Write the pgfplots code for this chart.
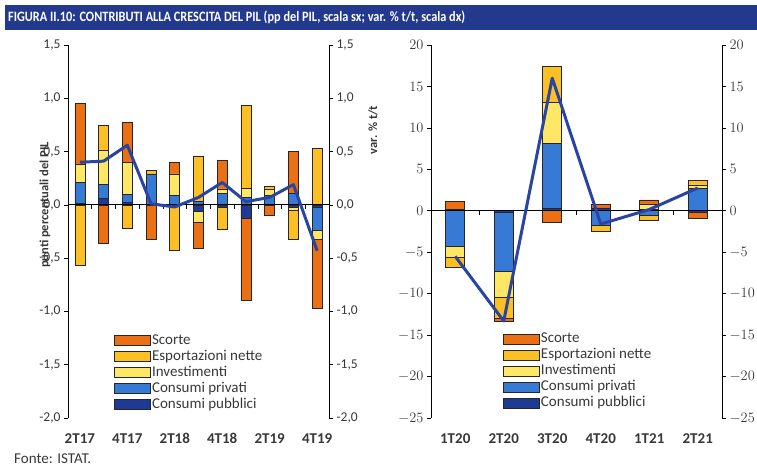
\documentclass[border=0pt]{standalone}
\usepackage{fontspec}
\setmainfont{Carlito}
\usepackage{pgfplots}
\usepackage{pgfplotstable}
\pgfplotsset{compat=1.18}

\definecolor{cSco}{HTML}{EA7013}
\definecolor{cExp}{HTML}{FCC024}
\definecolor{cInv}{HTML}{FFE766}
\definecolor{cPri}{HTML}{367AD6}
\definecolor{cPub}{HTML}{1E3A94}
\definecolor{cLine}{HTML}{2A44A2}
\definecolor{cTitle}{HTML}{22398D}
\definecolor{cTxt}{HTML}{383838}

% left panel: positive and negative parts of the contributions
\pgfplotstableread{
x pub priv inv exp sco
1 0.01 0.20 0.17 0 0.57
2 0.06 0.135 0.32 0.23 0
3 0.025 0.07 0.30 0 0.38
4 0 0.29 0 0.03 0
5 0 0.09 0.20 0 0.11
6 0 0.03 0 0.43 0
7 0 0.11 0.04 0 0.27
8 0 0.07 0.085 0.78 0
9 0 0.09 0.06 0.02 0
10 0 0.11 0 0 0.39
11 0 0 0 0.53 0
}\LPos
\pgfplotstableread{
x pub priv inv exp sco
1 0 0 0 -0.57 0
2 0 0 0 0 -0.36
3 0 0 0 -0.22 0
4 0 0 0 0 -0.32
5 0 0 0 -0.43 0
6 -0.06 0 -0.10 0 -0.25
7 -0.02 0 0 -0.21 0
8 -0.13 0 0 0 -0.77
9 0 0 0 0 -0.095
10 -0.02 0 -0.03 -0.27 0
11 -0.02 -0.22 -0.085 0 -0.65
}\LNeg
\pgfplotstableread{
x pub priv inv exp sco
0 0.2 0 0 0 0.9
1 0 0 0 0 0
2 0.3 7.8 5.0 4.3 0
3 0.35 0 0 0 0.45
4 0.2 0 0.6 0 0.5
5 0 2.73 0.4 0.5 0
}\RPos
\pgfplotstableread{
x pub priv inv exp sco
0 0 -4.26 -1.37 -1.15 0
1 -0.2 -7.15 -3.1 -2.5 -0.4
2 0 0 0 0 -1.45
3 0 -1.7 0 -0.8 0
4 0 -0.6 0 -0.5 0
5 -0.2 0 0 0 -0.7
}\RNeg

\pgfplotsset{
  Lpanel/.style={scale only axis, at={(68pt,50pt)}, anchor=south west,
    width=261pt, height=373pt, xmin=0.5, xmax=11.5, ymin=-2, ymax=1.5},
  Rpanel/.style={scale only axis, at={(431pt,50pt)}, anchor=south west,
    width=291pt, height=373pt, xmin=-0.5, xmax=5.5, ymin=-25, ymax=20},
  bars/.style={ybar stacked, hide axis,
    every axis plot/.append style={draw=black!85, line width=0.6pt},
    legend image code/.code={\draw[##1,line width=0.9pt] (0pt,-5pt) rectangle (36pt,5pt);},
    legend cell align=left,
    legend style={draw=none, fill=none, inner sep=0pt, row sep=2pt,
      font=\fontsize{15}{17}\selectfont, text=cTxt,
      nodes={inner sep=1pt, text height=9.5pt, text depth=2.5pt}}},
  yax/.style={tick align=outside, major tick length=4pt,
    tick style={black, line width=0.6pt},
    axis line style={black, line width=0.8pt},
    yticklabel style={font=\fontsize{13.5}{15}\selectfont, text=cTxt}},
  zeroax/.style={axis x line=middle, axis y line=none,
    x axis line style={-, black, line width=0.8pt},
    tick align=outside, major tick length=4pt,
    tick style={black, line width=0.6pt}, xticklabels={}},
}

\begin{document}
\begin{tikzpicture}[x=1pt,y=1pt]
\path[use as bounding box] (0,0) rectangle (757,468);
% title bar
\fill[cTitle] (5,438) rectangle (757,463);
\node[anchor=west, text=white, inner sep=0pt] at (8,450.5)
  {\scalebox{0.86}[1]{\bfseries\fontsize{14.3}{16}\selectfont FIGURA II.10: CONTRIBUTI ALLA CRESCITA DEL PIL (pp del PIL, scala sx; var. \% t/t, scala dx)}};
\node[anchor=base west, inner sep=0pt, text=cTxt] at (14,4) {\fontsize{15}{17}\selectfont Fonte: ISTAT.};

% ---------------- LEFT PANEL ----------------
\begin{axis}[Lpanel, bars, bar width=10pt, reverse legend,
  legend style={at={(0.176,0.226)}, anchor=north west}]
\addplot[fill=cPub] table[x=x,y=pub]{\LPos};
\addplot[fill=cPri] table[x=x,y=priv]{\LPos};
\addplot[fill=cInv] table[x=x,y=inv]{\LPos};
\addplot[fill=cExp] table[x=x,y=exp]{\LPos};
\addplot[fill=cSco] table[x=x,y=sco]{\LPos};
\legend{Consumi pubblici,Consumi privati,Investimenti,Esportazioni nette,Scorte}
\end{axis}
\begin{axis}[Lpanel, bars, bar width=10pt]
\addplot[fill=cPub] table[x=x,y=pub]{\LNeg};
\addplot[fill=cPri] table[x=x,y=priv]{\LNeg};
\addplot[fill=cInv] table[x=x,y=inv]{\LNeg};
\addplot[fill=cExp] table[x=x,y=exp]{\LNeg};
\addplot[fill=cSco] table[x=x,y=sco]{\LNeg};
\end{axis}
\begin{axis}[Lpanel, yax, axis y line*=left, axis x line*=bottom,
  x axis line style={draw=none}, major x tick style={draw=none},
  xtick={1,3,5,7,9,11}, xticklabels={2T17,4T17,2T18,4T18,2T19,4T19},
  xticklabel style={font=\bfseries\fontsize{15}{17}\selectfont, text=cTxt, yshift=-8pt},
  ytick={-2,-1.5,-1,-0.5,0,0.5,1,1.5},
  yticklabel style={/pgf/number format/.cd, fixed, fixed zerofill, precision=1, use comma, assume math mode=true}]
\addplot[draw=none] coordinates {(1,0)};
\end{axis}
\begin{axis}[Lpanel, yax, axis y line*=right, axis x line=none,
  ytick={-2,-1.5,-1,-0.5,0,0.5,1,1.5},
  yticklabel style={/pgf/number format/.cd, fixed, fixed zerofill, precision=1, use comma, assume math mode=true}]
\addplot[draw=none] coordinates {(1,0)};
\end{axis}
\begin{axis}[Lpanel, zeroax, xtick={1.5,2.5,...,10.5}]
\addplot[cLine, line width=3pt, line join=round] coordinates
  {(1,0.40) (2,0.41) (3,0.56) (4,0.01) (5,-0.02) (6,0.07) (7,0.21) (8,0.03) (9,0.07) (10,0.19) (11,-0.43)};
\end{axis}
\node[rotate=90, font=\bfseries\fontsize{12.5}{14}\selectfont, text=cTxt] at (45,263) {punti percentuali del PIL};
\node[rotate=90, font=\bfseries\fontsize{12.5}{14}\selectfont, text=cTxt] at (373,338) {var. \% t/t};

% ---------------- RIGHT PANEL ----------------
\begin{axis}[Rpanel, bars, bar width=19pt, reverse legend,
  legend style={at={(0.247,0.231)}, anchor=north west}]
\addplot[fill=cPub] table[x=x,y=pub]{\RPos};
\addplot[fill=cPri] table[x=x,y=priv]{\RPos};
\addplot[fill=cInv] table[x=x,y=inv]{\RPos};
\addplot[fill=cExp] table[x=x,y=exp]{\RPos};
\addplot[fill=cSco] table[x=x,y=sco]{\RPos};
\legend{Consumi pubblici,Consumi privati,Investimenti,Esportazioni nette,Scorte}
\end{axis}
\begin{axis}[Rpanel, bars, bar width=19pt]
\addplot[fill=cPub] table[x=x,y=pub]{\RNeg};
\addplot[fill=cPri] table[x=x,y=priv]{\RNeg};
\addplot[fill=cInv] table[x=x,y=inv]{\RNeg};
\addplot[fill=cExp] table[x=x,y=exp]{\RNeg};
\addplot[fill=cSco] table[x=x,y=sco]{\RNeg};
\end{axis}
\begin{axis}[Rpanel, yax, axis y line*=left, axis x line*=bottom,
  x axis line style={draw=none}, major x tick style={draw=none},
  xtick={0,1,2,3,4,5}, xticklabels={1T20,2T20,3T20,4T20,1T21,2T21},
  xticklabel style={font=\bfseries\fontsize{15}{17}\selectfont, text=cTxt, yshift=-8pt},
  ytick={-25,-20,...,20}]
\addplot[draw=none] coordinates {(1,0)};
\end{axis}
\begin{axis}[Rpanel, yax, axis y line*=right, axis x line=none,
  ytick={-25,-20,...,20}]
\addplot[draw=none] coordinates {(1,0)};
\end{axis}
\begin{axis}[Rpanel, zeroax, xtick={0.5,2.5,4.5}]
\addplot[cLine, line width=3pt, line join=round] coordinates
  {(0,-5.5) (1,-13.3) (2,16.0) (3,-1.6) (4,0.15) (5,2.75)};
\end{axis}
\end{tikzpicture}
\end{document}
